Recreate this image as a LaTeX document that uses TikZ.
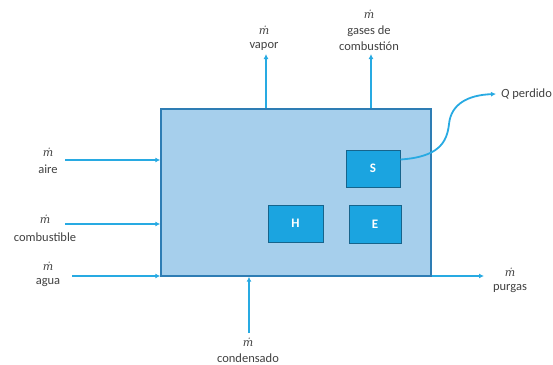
\documentclass[tikz,border=0pt]{standalone}
\usepackage{fontspec}
\setmainfont{Carlito}
\newfontfamily\mfont{DejaVu Serif}
\usetikzlibrary{arrows.meta}
\definecolor{boxfill}{RGB}{166,207,236}
\definecolor{boxline}{RGB}{46,125,180}
\definecolor{subfill}{RGB}{27,164,224}
\definecolor{subline}{RGB}{22,100,140}
\definecolor{flow}{RGB}{40,170,226}
\definecolor{txt}{RGB}{64,64,64}
\tikzset{
  mainbox/.style={draw=boxline, line width=1.4pt, fill=boxfill, inner sep=0pt},
  subbox/.style={draw=subline, line width=1pt, fill=subfill, inner sep=0pt, text=white, font=\fontsize{13}{15}\selectfont\bfseries},
  flowarrow/.style={draw=flow, line width=1.8pt, -{Latex[length=5pt,width=5pt]}},
  lbl/.style={text=txt, font=\fontsize{12.5}{16}\selectfont, align=center, inner sep=0pt},
  mdot/.style={text=txt, font=\mfont\itshape\fontsize{11}{13}\selectfont, inner sep=0pt},
}
\begin{document}
\begin{tikzpicture}[x=1pt,y=-1pt]
\useasboundingbox (0,0) rectangle (553,364);
% main box
\node[mainbox, minimum width=270pt, minimum height=167pt] (B) at (296,192.5) {};
% sub boxes
\node[subbox, minimum width=54pt, minimum height=37pt] (S) at (373,168.5) {S};
\node[subbox, minimum width=55pt, minimum height=37pt] (H) at (295.5,223.5) {H};
\node[subbox, minimum width=52pt, minimum height=38pt] (E) at (375,224) {E};
% labels
\node[mdot] (Maire) at (48,152) {ṁ};
\node[lbl] (Laire) at (48,169) {aire};
\node[mdot] (Mcomb) at (45,219) {ṁ};
\node[lbl] (Lcomb) at (45,237) {combustible};
\node[mdot] (Magua) at (48,266) {ṁ};
\node[lbl] (Lagua) at (48,283) {agua};
\node[mdot] (Mcond) at (248,342) {ṁ};
\node[lbl] (Lcond) at (248,358) {condensado};
\node[mdot] (Mpurg) at (510,272) {ṁ};
\node[lbl] (Lpurg) at (510,289) {purgas};
\node[mdot] (Mvap) at (264,30) {ṁ};
\node[lbl] (Lvap) at (264,46) {vapor};
\node[mdot] (Mgas) at (369,14) {ṁ};
\node[lbl] (Lgas) at (369,31) {gases de};
\node[lbl] (Lgas2) at (369,46.5) {combustión};
\node[lbl, anchor=west] (LQ) at (501,94) {\textit{Q} perdido};
% coordinates
\coordinate (aireS) at (65,160);
\coordinate (combS) at (65,224);
\coordinate (aguaS) at (72,276);
\coordinate (condS) at (249,333);
\coordinate (purgE) at (484,276);
\coordinate (vapE) at (266,54);
\coordinate (gasE) at (371,54);
\coordinate (QE) at (496,94);
\coordinate (Sout) at ([yshift=9pt]S.east);
% arrows
\draw[flowarrow] (aireS) -- (aireS -| B.west);
\draw[flowarrow] (combS) -- (combS -| B.west);
\draw[flowarrow] (aguaS) -- (aguaS -| B.west);
\draw[flowarrow] (condS) -- (condS |- B.south);
\draw[flowarrow] (purgE -| B.east) -- (purgE);
\draw[flowarrow] (vapE |- B.north) -- (vapE);
\draw[flowarrow] (gasE |- B.north) -- (gasE);
\draw[flowarrow] (Sout) .. controls (438,157) and (447,143) .. (449,124)
  .. controls (451,104) and (468,95) .. (QE);
\end{tikzpicture}
\end{document}
